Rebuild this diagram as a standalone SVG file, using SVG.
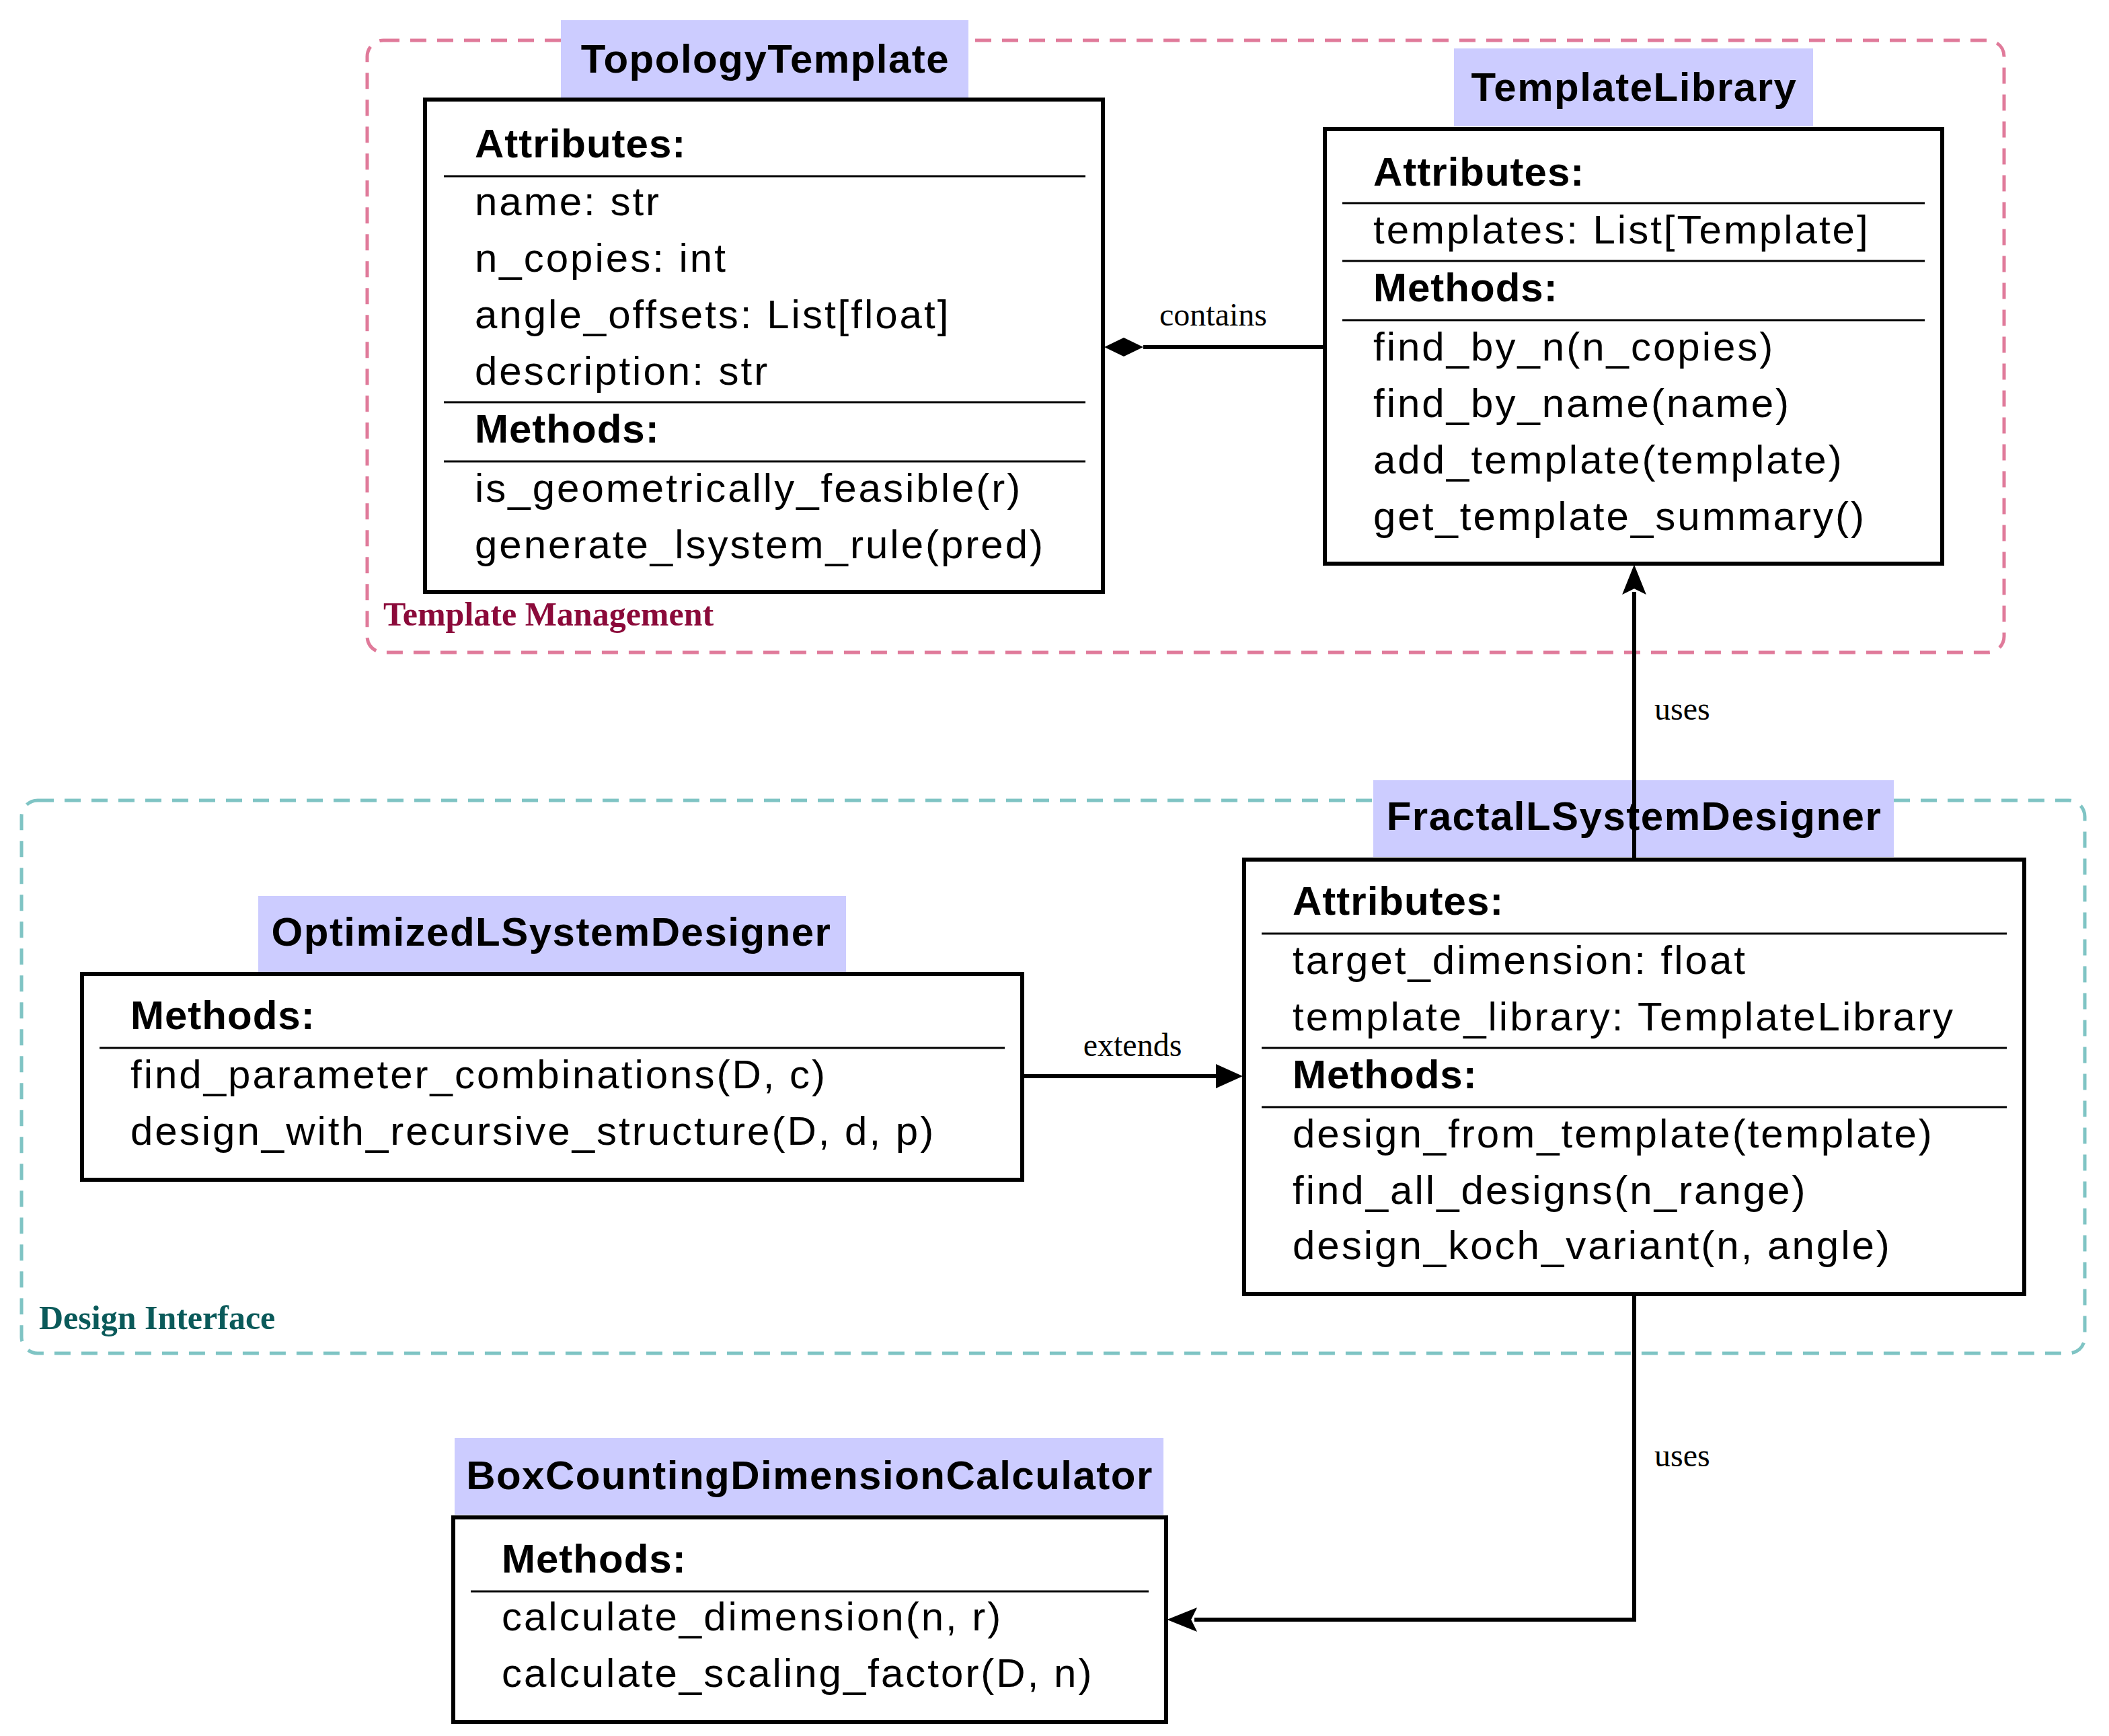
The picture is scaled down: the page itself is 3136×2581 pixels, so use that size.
<svg xmlns="http://www.w3.org/2000/svg" width="3136" height="2581" viewBox="0 0 3136 2581">
<style>
.t{font-family:"Liberation Sans",Arial,sans-serif;font-size:60px;letter-spacing:3px;fill:#000}
.b{font-weight:bold;letter-spacing:1px}
.h{font-family:"Liberation Sans",Arial,sans-serif;font-size:60px;letter-spacing:1.5px;font-weight:bold;text-anchor:middle}
.hd{fill:#ccccff;stroke:none}
.box{fill:#fff;stroke:#000;stroke-width:6}
.sep{stroke:#000;stroke-width:3}
.lbl{font-family:"Liberation Serif","Times New Roman",serif;font-size:48px}
.grp{font-family:"Liberation Serif","Times New Roman",serif;font-size:50px;font-weight:bold}
.ed{fill:none;stroke:#000;stroke-width:6}
</style>
<g id="groups">
<rect x="546" y="60" width="2434" height="910" rx="24" fill="none" stroke="#e07a9a" stroke-width="5" stroke-dasharray="24,16"/>
<text class="grp" x="570" y="930" fill="#8b0a3a">Template Management</text>
<rect x="32" y="1190" width="3068" height="822" rx="24" fill="none" stroke="#7fc4c4" stroke-width="5" stroke-dasharray="24,16"/>
<text class="grp" x="58" y="1976" fill="#0a5a5a">Design Interface</text>
</g>
<g id="edges">
<line class="ed" x1="1970" y1="516" x2="1700" y2="516"/>
<path d="M1642,516 L1671,502 L1700,516 L1671,530 z" fill="#000"/>
<text class="lbl" x="1804" y="484" text-anchor="middle">contains</text>
<line class="ed" x1="2430" y1="1278" x2="2430" y2="880"/>
<path d="M2430,842 L2446,882 L2430,874 L2414,882 z" fill="#000" stroke="#000" stroke-width="2"/>
<text class="lbl" x="2460" y="1070">uses</text>
<line class="ed" x1="1520" y1="1600" x2="1810" y2="1600"/>
<path d="M1848,1600 L1808,1582 L1808,1618 z" fill="#000"/>
<text class="lbl" x="1684" y="1570" text-anchor="middle">extends</text>
<polyline class="ed" points="2430,1924 2430,2408 1776,2408"/>
<path d="M1738,2408 L1778,2392 L1770,2408 L1778,2424 z" fill="#000" stroke="#000" stroke-width="2"/>
<text class="lbl" x="2460" y="2180">uses</text>
</g>
<g id="TopologyTemplate">
<rect class="hd" x="834" y="30" width="606" height="116"/>
<text class="h" x="1138" y="108">TopologyTemplate</text>
<rect class="box" x="632" y="148" width="1008" height="732"/>
<text class="t b" x="706" y="234">Attributes:</text>
<line class="sep" x1="660" y1="262" x2="1614" y2="262"/>
<text class="t" x="706" y="320">name: str</text>
<text class="t" x="706" y="404">n_copies: int</text>
<text class="t" x="706" y="488">angle_offsets: List[float]</text>
<text class="t" x="706" y="572">description: str</text>
<line class="sep" x1="660" y1="598" x2="1614" y2="598"/>
<text class="t b" x="706" y="658">Methods:</text>
<line class="sep" x1="660" y1="686" x2="1614" y2="686"/>
<text class="t" x="706" y="746">is_geometrically_feasible(r)</text>
<text class="t" x="706" y="830">generate_lsystem_rule(pred)</text>
</g>
<g id="TemplateLibrary">
<rect class="hd" x="2162" y="72" width="534" height="116"/>
<text class="h" x="2430" y="150">TemplateLibrary</text>
<rect class="box" x="1970" y="192" width="918" height="646"/>
<text class="t b" x="2042" y="276">Attributes:</text>
<line class="sep" x1="1996" y1="302" x2="2862" y2="302"/>
<text class="t" x="2042" y="362">templates: List[Template]</text>
<line class="sep" x1="1996" y1="388" x2="2862" y2="388"/>
<text class="t b" x="2042" y="448">Methods:</text>
<line class="sep" x1="1996" y1="476" x2="2862" y2="476"/>
<text class="t" x="2042" y="536">find_by_n(n_copies)</text>
<text class="t" x="2042" y="620">find_by_name(name)</text>
<text class="t" x="2042" y="704">add_template(template)</text>
<text class="t" x="2042" y="788">get_template_summary()</text>
</g>
<g id="FractalLSystemDesigner">
<rect class="hd" x="2042" y="1160" width="774" height="114"/>
<line class="ed" x1="2430" y1="1160" x2="2430" y2="1278"/>
<text class="h" x="2430" y="1234">FractalLSystemDesigner</text>
<rect class="box" x="1850" y="1278" width="1160" height="646"/>
<text class="t b" x="1922" y="1360">Attributes:</text>
<line class="sep" x1="1876" y1="1388" x2="2984" y2="1388"/>
<text class="t" x="1922" y="1448">target_dimension: float</text>
<text class="t" x="1922" y="1532">template_library: TemplateLibrary</text>
<line class="sep" x1="1876" y1="1558" x2="2984" y2="1558"/>
<text class="t b" x="1922" y="1618">Methods:</text>
<line class="sep" x1="1876" y1="1646" x2="2984" y2="1646"/>
<text class="t" x="1922" y="1706">design_from_template(template)</text>
<text class="t" x="1922" y="1790">find_all_designs(n_range)</text>
<text class="t" x="1922" y="1872">design_koch_variant(n, angle)</text>
</g>
<g id="OptimizedLSystemDesigner">
<rect class="hd" x="384" y="1332" width="874" height="114"/>
<text class="h" x="820" y="1406">OptimizedLSystemDesigner</text>
<rect class="box" x="122" y="1448" width="1398" height="306"/>
<text class="t b" x="194" y="1530">Methods:</text>
<line class="sep" x1="148" y1="1558" x2="1494" y2="1558"/>
<text class="t" x="194" y="1618">find_parameter_combinations(D, c)</text>
<text class="t" x="194" y="1702">design_with_recursive_structure(D, d, p)</text>
</g>
<g id="BoxCountingDimensionCalculator">
<rect class="hd" x="676" y="2138" width="1054" height="114"/>
<text class="h" x="1204" y="2214">BoxCountingDimensionCalculator</text>
<rect class="box" x="674" y="2256" width="1060" height="304"/>
<text class="t b" x="746" y="2338">Methods:</text>
<line class="sep" x1="700" y1="2366" x2="1708" y2="2366"/>
<text class="t" x="746" y="2424">calculate_dimension(n, r)</text>
<text class="t" x="746" y="2508">calculate_scaling_factor(D, n)</text>
</g>
</svg>
